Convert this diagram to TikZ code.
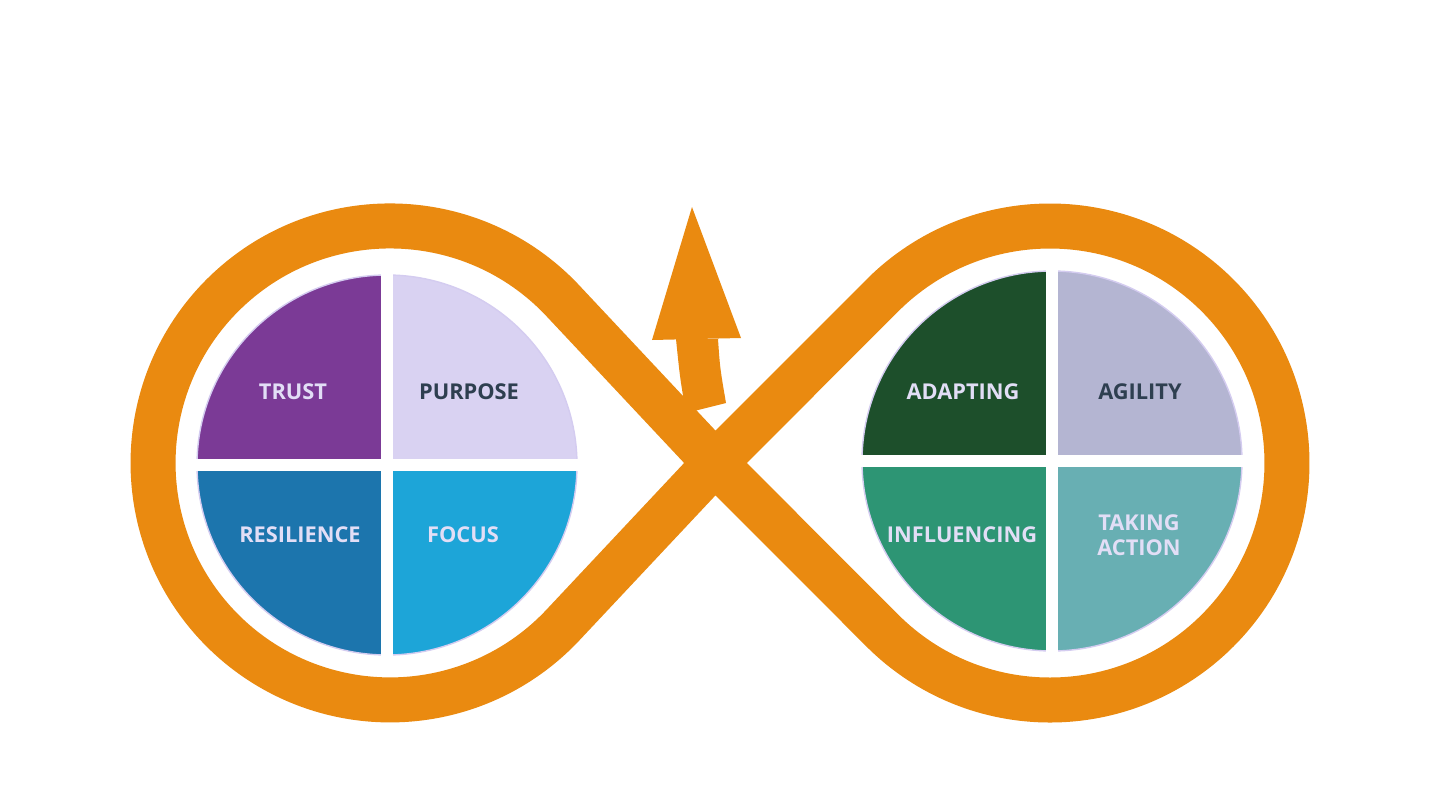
\documentclass[tikz,border=0pt]{standalone}
\usepackage{fontspec}
\setmainfont{Open Sans}
\definecolor{loopc}{HTML}{EA8A10}
\definecolor{trustc}{HTML}{7B3A96}
\definecolor{purposec}{HTML}{D9D2F2}
\definecolor{resilc}{HTML}{1C75AD}
\definecolor{focusc}{HTML}{1DA5D8}
\definecolor{adaptc}{HTML}{1D4F2B}
\definecolor{agilc}{HTML}{B4B5D2}
\definecolor{inflc}{HTML}{2D9574}
\definecolor{actc}{HTML}{68AFB3}
\definecolor{lighttxt}{HTML}{E2DEF6}
\definecolor{darktxt}{HTML}{2E3F50}
\definecolor{rim}{HTML}{D4CCF0}
\tikzset{
  lbl/.style={font=\fontsize{6.2}{7}\selectfont\bfseries, text=lighttxt, align=center},
  dlbl/.style={lbl, text=darktxt},
  gap/.style={white, line width=3.4pt}
}
\begin{document}
\begin{tikzpicture}[x=0.01cm,y=0.01cm]
   \useasboundingbox[fill=white] (0,0) rectangle (1438,808);
   % loop
   \draw [loopc,line width=12.8pt,line join=round] (715,345) -- (562.8,507.3)
      arc [start angle=43.2,end angle=316.8,radius=237] -- (715,345) -- (882.4,177.4)
      arc [start angle=225,end angle=495,radius=237] -- cycle;
   % arrow
   \fill [loopc] (676,469) .. controls (680,430) .. (686,395) -- (726,405) .. controls (720,440) .. (718,469) -- cycle;
   \fill [loopc] (652,468) -- (692,601) -- (741,470) -- cycle;
   % left disk
   \begin{scope}
      \clip (387,343) circle (190);
      \fill [trustc] (387,343) rectangle (190,540);
      \fill [purposec] (387,343) rectangle (590,540);
      \fill [resilc] (387,343) rectangle (190,140);
      \fill [focusc] (387,343) rectangle (590,140);
   \end{scope}
   \draw [rim,line width=0.4pt] (387,343) circle (190);
   \draw [gap] (195,343) -- (579,343);
   \draw [gap] (387,151) -- (387,535);
   % right disk
   \begin{scope}
      \clip (1052,347) circle (190);
      \fill [adaptc] (1052,347) rectangle (855,544);
      \fill [agilc] (1052,347) rectangle (1255,544);
      \fill [inflc] (1052,347) rectangle (855,144);
      \fill [actc] (1052,347) rectangle (1255,144);
   \end{scope}
   \draw [rim,line width=0.4pt] (1052,347) circle (190);
   \draw [gap] (860,347) -- (1244,347);
   \draw [gap] (1052,155) -- (1052,539);
   % labels
   \node [lbl] (trust) at (293,416) {TRUST};
   \node [dlbl] (purpose) at (469,416) {PURPOSE};
   \node [lbl] (resilience) at (300,273) {RESILIENCE};
   \node [lbl] (focus) at (463,273) {FOCUS};
   \node [lbl] (adapting) at (963,416) {ADAPTING};
   \node [dlbl] (agility) at (1140,416) {AGILITY};
   \node [lbl] (influencing) at (962,273) {INFLUENCING};
   \node [lbl] (action) at (1139,273) {TAKING\\ACTION};
\end{tikzpicture}
\end{document}
